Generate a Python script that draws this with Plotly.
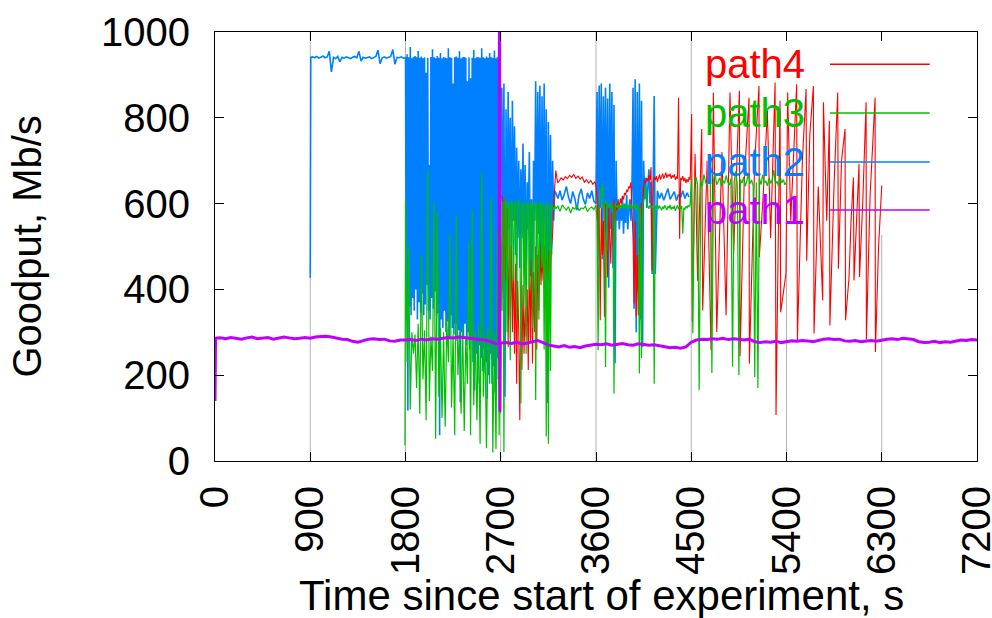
import numpy as np
import plotly.graph_objects as go

# ---------------------------------------------------------------------------
# Goodput samples (Mb/s) per path. Each block is sampled at a fixed interval
# starting at the given time (s); the busy periods are stored as alternating
# high/low readings.
# ---------------------------------------------------------------------------

# path1
path1_head_start, path1_head_step = 0, 5
path1_head = [140, 286]
path1_a_start, path1_a_step = 50, 50
path1_a = [287, 285, 288, 286, 284, 287, 289, 285, 286, 288, 284, 286, 289, 287, 285, 286, 288, 286,
           289, 290, 291, 289, 286, 284, 283, 279,
           277, 281, 284, 285, 283, 284, 280, 279, 282, 282,
           283, 281, 284, 282, 285, 284, 286, 288, 287, 289, 288, 286, 284, 283, 282, 279, 274]
path1_restart_start, path1_restart_step = 2684, 4
path1_restart = [272, 1200, 115, 275]
path1_b_start, path1_b_step = 2750, 50
path1_b = [276, 274, 277, 273, 275, 278, 281, 276,
           270, 268, 266, 269, 265, 267, 264, 268, 270,
           272, 271, 273, 270, 272, 274, 271, 270, 273, 272, 270, 271, 269,
           266, 264, 265, 263, 266,
           277, 282, 284, 283, 285, 284, 286, 283, 285, 284, 282, 284,
           278, 276, 278, 277, 279, 276, 278,
           280, 279, 281, 280, 278, 281,
           284, 285, 283, 284,
           280, 279, 281, 278, 280, 281, 279, 282,
           284, 285, 283, 286, 284, 283,
           278, 276, 277, 279, 276, 278, 277, 279,
           282, 281, 283, 282]

# path2
path2_head_start, path2_head_step = 900, 5
path2_head = [427, 941]
path2_a_start, path2_a_step = 920, 20
path2_a = [942, 940, 943, 939, 941, 944, 940, 942, 955, 907, 941, 938, 943, 930, 941, 939, 942, 940,
           938, 941, 943, 940, 955, 932, 941, 939, 940, 942, 938, 941, 943, 958, 926, 940, 942, 939,
           941, 943, 959, 925, 941, 940, 942, 939]
path2_b_start, path2_b_step = 1800, 7.5
path2_b_high = [940, 948, 941, 965, 939, 942, 944, 941, 956, 940,
                943, 939, 941, 905, 940, 690, 942, 960, 941, 939,
                944, 940, 951, 938, 942, 940, 939, 962, 941, 940,
                880, 941, 943, 940, 955, 939, 941, 942, 940, 885,
                941, 892, 940, 958, 939, 942, 941, 940, 962, 941,
                939, 943, 940, 951, 941, 940, 957, 939, 942, 940]
path2_b_low = [330, 118, 360, 340, 380, 350, 400, 330, 370, 345,
               390, 340, 365, 410, 350, 330, 380, 355, 395, 340,
               345, 60, 330, 310, 350, 300, 325, 290, 340, 310,
               295, 320, 280, 305, 137, 300, 285, 320, 270, 300,
               260, 290, 230, 165, 250, 180, 270, 240, 210, 260,
               230, 145, 200, 250, 180, 220, 160, 240, 190, 110]
path2_c_start, path2_c_step = 2700, 10
path2_c = [600, 870, 520, 880, 150, 820, 470, 860, 540, 800,
           450, 840, 560, 780, 480, 730, 520, 700, 450, 680,
           520, 740, 470, 690, 410, 650, 540, 720, 430, 610,
           405, 700, 560, 885, 470, 860, 530, 875, 440, 850,
           500, 880, 460, 820, 135, 790, 420, 760, 480, 700,
           560, 630]
path2_d_start, path2_d_step = 3220, 20
path2_d = [625, 612, 630, 608, 622, 640, 615, 600, 628, 612, 585, 620, 634, 610, 598, 625, 612, 630, 605]
path2_e_start, path2_e_step = 3600, 10
path2_e = [600, 860, 520, 875, 590, 880, 470, 850, 560, 870,
           500, 845, 404, 880, 540, 860, 450, 830, 228, 700,
           560, 610, 540, 590, 560, 615, 530, 600, 555, 620,
           540, 585, 610, 560, 640, 870, 355, 890, 300, 860,
           420, 880, 330, 840, 265, 700, 610, 660, 590, 640,
           680, 600, 650, 436, 640, 851]
path2_f_start, path2_f_step = 4160, 20
path2_f = [436, 630, 612, 625, 608, 620, 635, 610, 618, 628, 607, 622, 614, 630, 612, 625, 615]

# path3
path3_head_start, path3_head_step = 1795, 5
path3_head = [37]
path3_a_start, path3_a_step = 1800, 15
path3_a_high = [610, 498, 300, 295, 320, 481, 305, 677, 290, 602,
                579, 310, 300, 330, 530, 295, 572, 300, 315, 290,
                510, 584, 300, 320, 672, 295, 310, 614, 300, 540]
path3_a_low = [230, 120, 250, 170, 110, 190, 95, 140, 210, 52,
               150, 100, 80, 230, 125, 60, 200, 110, 70, 180,
               60, 130, 95, 40, 150, 30, 180, 20, 28, 60]
path3_b_start, path3_b_step = 2700, 10
path3_b = [600, 350, 605, 21, 610, 598, 300, 604, 592, 235,
           606, 600, 420, 596, 605, 330, 599, 608, 594, 134,
           601, 597, 360, 603, 250, 598, 605, 400, 596, 602,
           310, 599, 604, 142, 600, 596, 330, 603, 598, 450,
           601, 260, 597, 57, 604, 40, 598, 210, 600, 592,
           585, 595]
path3_c_start, path3_c_step = 3220, 20
path3_c = [588, 594, 582, 597, 590, 585, 593, 578, 591, 587, 596, 583, 590, 588, 594, 581, 589, 592, 586]
path3_d_start, path3_d_step = 3600, 10
path3_d = [596, 560, 258, 600, 615, 640, 646, 590, 600, 219,
           605, 592, 598, 588, 600, 595, 590, 157, 600, 594,
           590, 598, 586, 596, 590, 601, 589, 595, 592, 598,
           587, 596, 591, 599, 588, 594, 590, 600, 585, 596,
           592, 204, 590, 240, 598, 605, 620, 642, 600, 592,
           588, 597, 590, 595, 586, 180, 594, 591, 598, 587,
           595, 590, 584, 593, 588, 596, 590, 585, 594, 589,
           597, 586, 592, 588, 595, 583, 590, 596, 587, 593,
           588, 595, 530, 590, 586, 594, 589, 596, 592, 598]
path3_e_start, path3_e_step = 4500, 15
path3_e = [655, 298, 648, 662, 645, 165, 652, 640, 668, 650,
           643, 657, 646, 205, 655, 672, 644, 651, 660, 641,
           654, 647, 666, 650, 643, 658, 220, 649, 675, 645,
           200, 656, 648, 662, 640, 653, 670, 646, 655, 642,
           196, 650, 170, 658, 644, 667, 649, 653, 641, 660,
           647, 655, 678, 645, 652, 640, 663, 648, 656, 644,
           650]

# path4
path4_a_start, path4_a_step = 2710, 10
path4_a = [619, 600, 380, 610, 420, 590, 265, 560, 330, 500,
           300, 490, 250, 460, 180, 420, 300, 95, 380, 213,
           410, 250, 360, 290, 400, 212, 506, 280, 470, 227,
           440, 300, 500, 260, 480, 350, 506, 410, 480, 420,
           500, 405, 470, 430, 490, 410, 460, 490, 530, 600,
           650, 677, 660, 648]
path4_b_start, path4_b_step = 3250, 20
path4_b = [652, 660, 655, 663, 658, 666, 661, 668, 659, 664, 657, 662, 650, 656, 648, 654, 645, 651]
path4_c_start, path4_c_step = 3600, 10
path4_c = [640, 610, 470, 600, 328, 590, 480, 560, 336, 600,
           520, 428, 590, 540, 460, 580, 500, 610, 560, 600,
           585, 605, 590, 612, 600, 618, 610, 625, 620, 632,
           628, 640, 636, 650, 600, 520, 367, 560, 336, 480,
           340, 520, 420, 600, 580, 640, 655, 648, 660, 652,
           666, 655, 685, 444, 650, 662, 655, 664, 650, 660,
           668, 656, 662, 670, 658, 665, 672, 660, 668, 663,
           670, 658, 666, 661, 668, 655, 663, 658, 847, 518,
           660, 655, 664, 652, 660, 648, 657, 650, 662, 655]
path4_burst_time = [4504, 4510, 4536, 4560, 4599, 4608, 4650, 4687, 4709, 4741,
                    4790, 4829, 4866, 4900, 4955, 4961, 5000, 5046, 5049, 5100,
                    5140, 5143, 5180, 5219, 5250, 5292, 5301, 5339, 5345, 5395,
                    5411, 5440, 5496, 5503, 5550, 5585, 5591, 5620, 5654, 5660,
                    5700, 5742, 5749, 5780, 5805, 5810, 5850, 5884, 5890, 5920,
                    5953, 5958, 5991, 6010, 6032, 6038, 6085, 6090, 6120, 6152,
                    6155, 6190, 6237, 6240, 6270, 6300]
path4_burst = [809, 324, 716, 420, 774, 351, 700, 258, 859, 301,
               720, 340, 859, 480, 863, 244, 650, 847, 227, 700,
               874, 475, 620, 816, 520, 882, 107, 840, 347, 437,
               859, 560, 878, 282, 700, 867, 467, 760, 874, 297,
               640, 374, 836, 560, 793, 316, 650, 859, 448, 700,
               774, 328, 429, 560, 661, 421, 693, 429, 600, 836,
               283, 620, 847, 254, 500, 642]

x_ticks = [0, 900, 1800, 2700, 3600, 4500, 5400, 6300, 7200]
y_ticks = [0, 200, 400, 600, 800, 1000]

series_names = ["path4", "path3", "path2", "path1"]
series_colors = {"path4": "#ff0000", "path3": "#00c000", "path2": "#0080ff", "path1": "#c000ff"}


def block(start, step, values):
    values = np.asarray(values, dtype=float)
    return start + step * np.arange(len(values)), values


def alternate(high, low):
    return [v for pair in zip(high, low) for v in pair]


def join(*blocks):
    return (np.concatenate([b[0] for b in blocks]), np.concatenate([b[1] for b in blocks]))


data = {
    "path1": join(block(path1_head_start, path1_head_step, path1_head),
                  block(path1_a_start, path1_a_step, path1_a),
                  block(path1_restart_start, path1_restart_step, path1_restart),
                  block(path1_b_start, path1_b_step, path1_b)),
    "path2": join(block(path2_head_start, path2_head_step, path2_head),
                  block(path2_a_start, path2_a_step, path2_a),
                  block(path2_b_start, path2_b_step, alternate(path2_b_high, path2_b_low)),
                  block(path2_c_start, path2_c_step, path2_c),
                  block(path2_d_start, path2_d_step, path2_d),
                  block(path2_e_start, path2_e_step, path2_e),
                  block(path2_f_start, path2_f_step, path2_f)),
    "path3": join(block(path3_head_start, path3_head_step, path3_head),
                  block(path3_a_start, path3_a_step, alternate(path3_a_high, path3_a_low)),
                  block(path3_b_start, path3_b_step, path3_b),
                  block(path3_c_start, path3_c_step, path3_c),
                  block(path3_d_start, path3_d_step, path3_d),
                  block(path3_e_start, path3_e_step, path3_e)),
    "path4": join(block(path4_a_start, path4_a_step, path4_a),
                  block(path4_b_start, path4_b_step, path4_b),
                  block(path4_c_start, path4_c_step, path4_c),
                  (np.asarray(path4_burst_time, float), np.asarray(path4_burst, float))),
}

FONT = "Liberation Sans, Arial, sans-serif"
line_widths = {"path4": 1.1, "path3": 1.2, "path2": 1.6, "path1": 3.0}

fig = go.Figure()
# drawing order: path2 underneath, then path4, path3, and path1 on top
for name in ["path2", "path4", "path3", "path1"]:
    t, v = data[name]
    fig.add_trace(go.Scatter(x=t, y=v, mode="lines", name=name, showlegend=False,
                             line=dict(color=series_colors[name], width=line_widths[name])))

# vertical grid lines (the key box keeps its area clear of grid lines)
key_left, key_right, key_bottom = 4560, 7050, 0.527
shapes = []
for xv in x_ticks[1:-1]:
    top = key_bottom if key_left < xv < key_right else 1
    shapes.append(dict(type="line", xref="x", yref="paper", x0=xv, x1=xv, y0=0, y1=top,
                       line=dict(color="#b4b4b4", width=1), layer="below"))

# key: label followed by a line sample
annotations = []
key_rows = [0.925, 0.811, 0.697, 0.585]
for name, yk in zip(series_names, key_rows):
    annotations.append(dict(text=name, xref="paper", yref="paper", x=0.640, y=yk,
                            xanchor="left", yanchor="middle", showarrow=False,
                            font=dict(family=FONT, size=40, color=series_colors[name])))
    shapes.append(dict(type="line", xref="paper", yref="paper", x0=0.807, x1=0.938, y0=yk, y1=yk,
                       line=dict(color=series_colors[name], width=1.5), layer="above"))

annotations.append(dict(text="Time since start of experiment, s", xref="paper", yref="paper",
                        x=0.507, y=-0.373, xanchor="center", yanchor="bottom", showarrow=False,
                        font=dict(family=FONT, size=42, color="black")))
annotations.append(dict(text="Goodput, Mb/s", xref="paper", yref="paper", textangle=-90,
                        x=-0.248, y=0.5, xanchor="center", yanchor="middle", showarrow=False,
                        font=dict(family=FONT, size=40, color="black")))

fig.update_layout(
    width=992, height=618,
    margin=dict(l=215, r=15, t=32, b=157),
    paper_bgcolor="white", plot_bgcolor="white",
    shapes=shapes, annotations=annotations,
    font=dict(family=FONT, size=40, color="black"),
)
fig.update_xaxes(range=[0, 7200], tickvals=x_ticks, ticktext=[str(v) for v in x_ticks],
                 tickangle=-90, ticks="inside", ticklen=9, tickcolor="black", tickwidth=1,
                 showline=True, linecolor="black", linewidth=1, mirror="ticks",
                 showgrid=False, zeroline=False, ticklabelstandoff=8,
                 ticklabeloverflow="allow", automargin=False,
                 tickfont=dict(family=FONT, size=40, color="black"))
fig.update_yaxes(range=[0, 1000], tickvals=y_ticks, ticktext=[str(v) for v in y_ticks],
                 ticks="inside", ticklen=9, tickcolor="black", tickwidth=1,
                 showline=True, linecolor="black", linewidth=1, mirror="ticks",
                 showgrid=False, zeroline=False, ticklabelstandoff=16, automargin=False,
                 tickfont=dict(family=FONT, size=40, color="black"))

fig.write_html("out.html")
